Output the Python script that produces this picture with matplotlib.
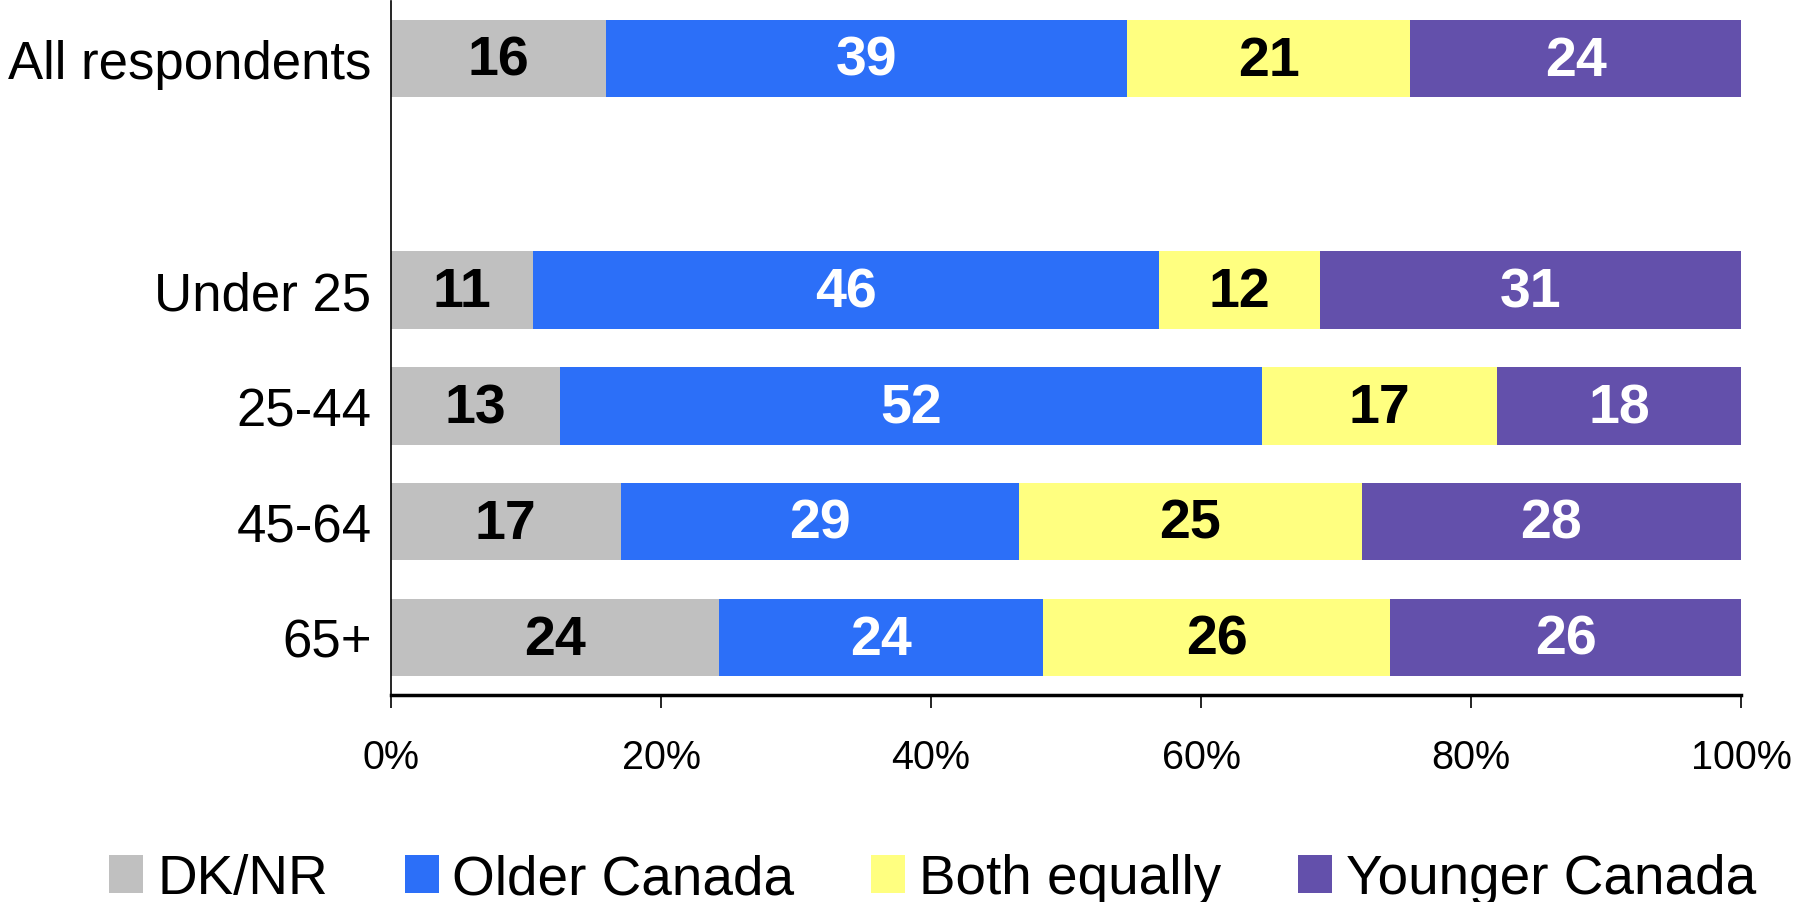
import matplotlib.pyplot as plt
import numpy as np

plt.rcParams['font.family'] = ['Liberation Sans', 'DejaVu Sans']

groups = ["All respondents", "Under 25", "25-44", "45-64", "65+"]
group_pos = [0, 2, 3, 4, 5]

series = ["DK/NR", "Older Canada", "Both equally", "Younger Canada"]
colors = ["#C0C0C0", "#2C6FF8", "#FFFF80", "#6350AB"]
text_colors = ["black", "white", "black", "white"]

# segment widths as drawn (percent)
dk_nr = [15.9, 10.5, 12.5, 17.0, 24.3]
older = [38.6, 46.4, 52.0, 29.5, 24.0]
both = [21.0, 11.9, 17.4, 25.4, 25.7]
younger = [24.5, 31.2, 18.1, 28.1, 26.0]

# printed labels
dk_nr_lbl = [16, 11, 13, 17, 24]
older_lbl = [39, 46, 52, 29, 24]
both_lbl = [21, 12, 17, 25, 26]
younger_lbl = [24, 31, 18, 28, 26]

values = [dk_nr, older, both, younger]
labels = [dk_nr_lbl, older_lbl, both_lbl, younger_lbl]

fig = plt.figure(figsize=(17.97, 9.03), dpi=100)
ax = fig.add_axes([0.2176, 0.229, 0.7513, 0.769])

left = np.zeros(len(groups))
for name, vals, lbls, c, tc in zip(series, values, labels, colors, text_colors):
    vals = np.array(vals)
    ax.barh(group_pos, vals, left=left, height=0.67, color=c, label=name)
    for y, l, v, t in zip(group_pos, left, vals, lbls):
        ax.text(l + v / 2, y + 0.02, str(t), ha='center', va='center',
                fontsize=40, fontweight='bold', color=tc)
    left += vals

ax.set_xlim(0, 100)
ax.set_ylim(5.5, -0.5)
ax.set_yticks(group_pos)
ax.set_yticklabels(groups, fontsize=38)
ax.tick_params(axis='y', length=0, pad=14)
ax.set_xticks(range(0, 101, 20))
ax.set_xticklabels([f"{v}%" for v in range(0, 101, 20)], fontsize=28.5)
ax.tick_params(axis='x', direction='out', length=9, width=1.2, pad=22)
ax.spines['top'].set_visible(False)
ax.spines['right'].set_visible(False)
ax.spines['left'].set_linewidth(1.2)
ax.spines['bottom'].set_linewidth(2.5)

fig.legend(loc='center', bbox_to_anchor=(0.519, 0.025), ncol=4, frameon=False,
           fontsize=39.5, handlelength=0.62, handleheight=0.7,
           handletextpad=0.25, columnspacing=1.4)

fig.savefig("out.png", dpi=100)
